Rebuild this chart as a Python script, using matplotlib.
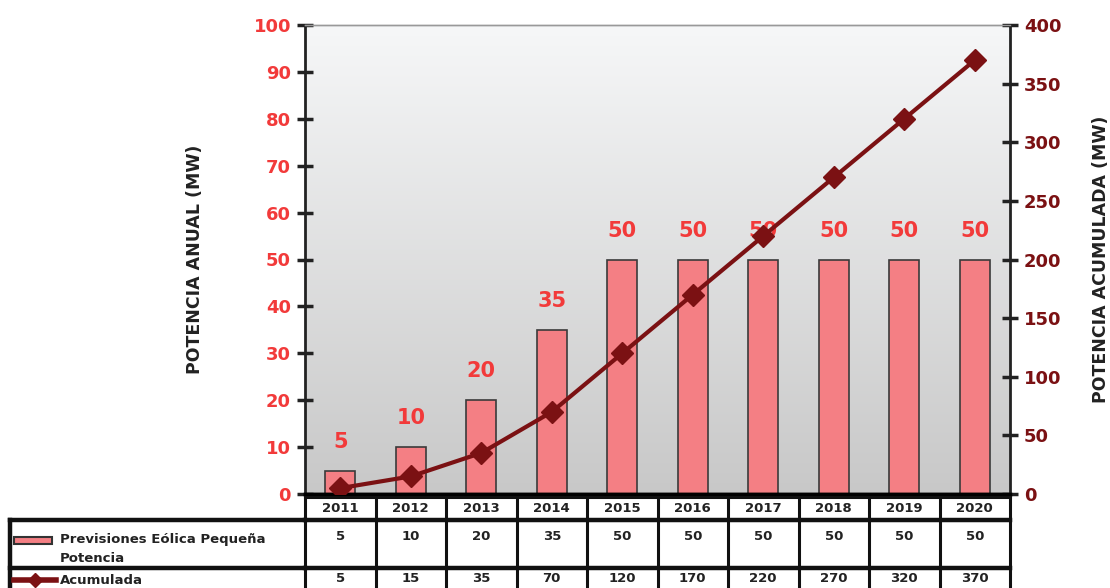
import numpy as np
import matplotlib
matplotlib.use("Agg")
import matplotlib.pyplot as plt
from matplotlib.transforms import blended_transform_factory
from matplotlib.patches import Rectangle
from matplotlib.lines import Line2D

# data
years = ['2011', '2012', '2013', '2014', '2015', '2016', '2017', '2018', '2019', '2020']
anual = [5, 10, 20, 35, 50, 50, 50, 50, 50, 50]
acumulada = [5, 15, 35, 70, 120, 170, 220, 270, 320, 370]
serie1 = 'Previsiones Eólica Pequeña\nPotencia'
serie2 = 'Acumulada'

bar_color = '#f47f84'
line_color = '#7b1113'
red_txt = '#f23a3a'

W, H = 1110, 588
fig = plt.figure(figsize=(W / 100, H / 100), dpi=100)
plt.rcParams['font.family'] = ['DejaVu Sans']

# axes in pixel coords
L, R, T, B = 305, 1010, 25, 494
ax = fig.add_axes([L / W, 1 - B / H, (R - L) / W, (B - T) / H])
ax2 = ax.twinx()

x = np.arange(len(years))
ax.set_xlim(-0.5, len(years) - 0.5)
ax.set_ylim(0, 100)
ax2.set_ylim(0, 400)

# gradient background
grad = np.linspace(0, 1, 256).reshape(-1, 1)
ax.imshow(grad, extent=[0, 1, 0, 1], transform=ax.transAxes, aspect='auto',
          cmap=matplotlib.colors.LinearSegmentedColormap.from_list('g', ['#c8c8c8', '#f6f7f8']),
          origin='lower', zorder=0)

ax.bar(x, anual, width=0.43, color=bar_color, edgecolor='#3a3a3a', linewidth=1.2, zorder=2)
for xi, v in zip(x, anual):
    ax.text(xi, v + 4, str(v), ha='center', va='bottom', color=red_txt,
            fontsize=15, fontweight='bold', zorder=3)

ax2.plot(x, acumulada, color=line_color, linewidth=3, marker='D', markersize=11, zorder=4)

# axes styling
ax.set_yticks(range(0, 101, 10))
ax2.set_yticks(range(0, 401, 50))
ax.set_xticks([])
for a in (ax, ax2):
    a.spines['bottom'].set_linewidth(2.5)
    a.spines['top'].set_color('#999999')
    a.spines['top'].set_linewidth(1)
ax.spines['left'].set_linewidth(2)
ax.spines['left'].set_color('#222222')
ax2.spines['right'].set_linewidth(2)
ax2.spines['right'].set_color('#222222')
ax.spines['right'].set_visible(False)
ax2.spines['left'].set_visible(False)
ax.tick_params(axis='y', direction='inout', length=12, width=2.5, color='#222222',
               labelcolor=red_txt, labelsize=13, pad=4)
ax2.tick_params(axis='y', direction='inout', length=12, width=2.5, color='#222222',
                labelcolor=line_color, labelsize=13, pad=4)
for lab in ax.get_yticklabels() + ax2.get_yticklabels():
    lab.set_fontweight('bold')
ax.set_ylabel('POTENCIA ANUAL (MW)', fontsize=12.5, fontweight='bold', color='#222222', labelpad=36)
ax2.set_ylabel('POTENCIA ACUMULADA (MW)', fontsize=12.5, fontweight='bold', color='#222222', labelpad=22)
ax.set_zorder(ax2.get_zorder() - 1)
ax2.patch.set_visible(False)
ax.patch.set_visible(False)

# data table below the axes
def fy(py):
    return 1 - py / H

tr = blended_transform_factory(ax.transData, fig.transFigure)
lw = 2.2
edges = np.arange(len(years) + 1) - 0.5
# header row (years)
for yy in (497, 520):
    fig.add_artist(Line2D([edges[0], edges[-1]], [fy(yy), fy(yy)], transform=tr, color='#111111', lw=lw))
# body rows
for yy in (520, 568):
    fig.add_artist(Line2D([10 / W, L / W], [fy(yy), fy(yy)], transform=fig.transFigure, color='#111111', lw=lw + 1))
    fig.add_artist(Line2D([edges[0], edges[-1]], [fy(yy), fy(yy)], transform=tr, color='#111111', lw=lw + 1))
for e in edges:
    fig.add_artist(Line2D([e, e], [fy(497), fy(590)], transform=tr, color='#111111', lw=lw))
fig.add_artist(Line2D([10 / W, 10 / W], [fy(520), fy(590)], transform=fig.transFigure, color='#111111', lw=lw + 1))

for xi, yr, a, c in zip(x, years, anual, acumulada):
    fig.text(xi, fy(508), yr, transform=tr, ha='center', va='center', fontsize=9.5, fontweight='bold', color='#222222')
    fig.text(xi, fy(537), str(a), transform=tr, ha='center', va='center', fontsize=9.5, fontweight='bold', color='#222222')
    fig.text(xi, fy(579), str(c), transform=tr, ha='center', va='center', fontsize=9.5, fontweight='bold', color='#222222')

# legend keys in table
fig.add_artist(Rectangle((14 / W, fy(544)), 38 / W, 7 / H, transform=fig.transFigure,
                         facecolor=bar_color, edgecolor='#333333', lw=1.5))
fig.add_artist(Line2D([14 / W, 56 / W], [fy(580), fy(580)], transform=fig.transFigure,
                      color=line_color, lw=4))
fig.add_artist(Line2D([35 / W], [fy(580)], transform=fig.transFigure,
                      color=line_color, marker='D', markersize=7, lw=0))
lab1, lab2 = serie1.split('\n')
fig.text(60 / W, fy(539), lab1, fontsize=9.5, fontweight='bold', va='center', color='#222222')
fig.text(60 / W, fy(558), lab2, fontsize=9.5, fontweight='bold', va='center', color='#222222')
fig.text(60 / W, fy(581), serie2, fontsize=9.5, fontweight='bold', va='center', color='#222222')

fig.savefig('out.png', dpi=100, facecolor='white')
